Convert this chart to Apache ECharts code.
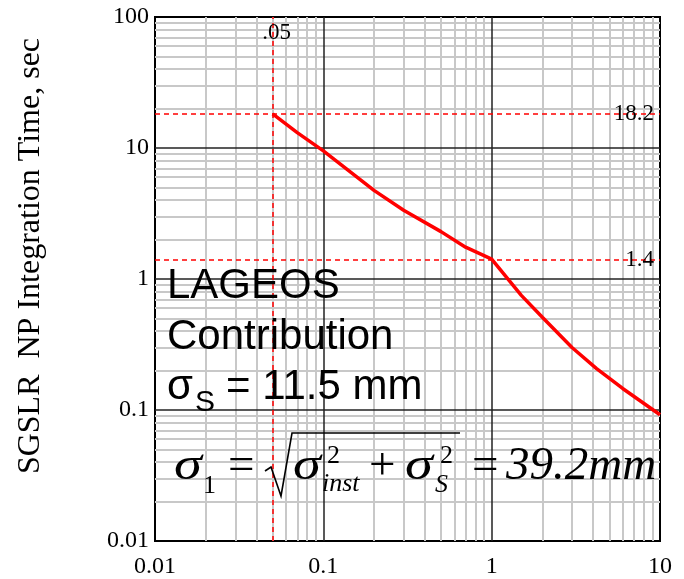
<!DOCTYPE html>
<html><head><meta charset="utf-8">
<script src="https://cdn.jsdelivr.net/npm/echarts/dist/echarts.min.js"></script>
<style>html,body{margin:0;padding:0;background:#fff}#c{width:684px;height:579px}</style>
</head><body><div id="c"></div>
<script>
// ---- data ----
const xValues = [0.05, 0.07, 0.1, 0.2, 0.3, 0.5, 0.7, 1, 1.5, 2, 3, 4.2, 6, 10];
const yValues = [18.2, 13.1, 9.5, 4.75, 3.35, 2.3, 1.75, 1.42, 0.75, 0.51, 0.3, 0.207, 0.146, 0.092];
const xTickLabels = ['0.01', '0.1', '1', '10'];
const yTickLabels = ['0.01', '0.1', '1', '10', '100'];
const xDecades = [0.01, 0.1, 1, 10];
const yDecades = [0.01, 0.1, 1, 10, 100];
const refX = [0.05];
const refXLabels = ['.05'];
const refY = [18.2, 1.4];
const refYLabels = ['18.2', '1.4'];
const yTitle = 'SGSLR  NP Integration Time, sec';
const noteLines = ['LAGEOS', 'Contribution'];
const noteSigma = ['σ', 'S', '= 11.5 mm'];
const formulaResult = '39.2mm';

const chart = echarts.init(document.getElementById('c'), null, {renderer: 'canvas'});
const SERIF = '"Liberation Serif","Times New Roman",serif';
const SANS = '"Liberation Sans",Arial,sans-serif';

// minor grid values (2..9 within each decade)
function minors(decades) {
  const out = [];
  for (let i = 0; i < decades.length - 1; i++)
    for (let m = 2; m <= 9; m++) out.push(+(decades[i] * m).toPrecision(6));
  return out;
}
const xMinor = minors(xDecades), yMinor = minors(yDecades);
const xMajorInner = xDecades.slice(1, -1), yMajorInner = yDecades.slice(1, -1);

function ml(list, key) { return list.map(v => ({[key]: v})); }

const curve = xValues.map((x, i) => [x, yValues[i]]);

function mark(z, lineStyle, data) {
  return {symbol: ['none', 'none'], silent: true, animation: false, label: {show: false}, z: z, lineStyle: lineStyle, data: data};
}

chart.setOption({
  animation: false,
  backgroundColor: '#fff',
  grid: {left: 155, top: 17, width: 505, height: 524, show: true, borderColor: '#000', borderWidth: 2, backgroundColor: '#fff'},
  xAxis: {
    type: 'log', logBase: 10, min: 0.01, max: 10,
    axisLine: {show: false}, axisTick: {show: false}, splitLine: {show: false},
    axisLabel: {
      formatter: v => xTickLabels[Math.round(Math.log10(v)) + 2],
      fontFamily: SERIF, fontSize: 24, color: '#000', margin: 14
    }
  },
  yAxis: {
    type: 'log', logBase: 10, min: 0.01, max: 100,
    axisLine: {show: false}, axisTick: {show: false}, splitLine: {show: false},
    axisLabel: {
      formatter: v => yTickLabels[Math.round(Math.log10(v)) + 2],
      fontFamily: SERIF, fontSize: 24, color: '#000', margin: 6
    }
  },
  series: [
    {type: 'line', data: [], z: 1, markLine: mark(1, {color: '#c8c8c8', width: 2, type: 'solid'},
      ml(xMinor, 'xAxis').concat(ml(yMinor, 'yAxis')))},
    {type: 'line', data: [], z: 2, markLine: mark(2, {color: '#222', width: 1.5, type: 'solid'},
      ml(xMajorInner, 'xAxis').concat(ml(yMajorInner, 'yAxis')))},
    {type: 'line', data: [], z: 3, markLine: mark(3, {color: '#ff0000', width: 1.5, type: [5, 4]},
      ml(refX, 'xAxis').concat(ml(refY, 'yAxis')))},
    {type: 'line', data: curve, z: 10, showSymbol: false, symbol: 'none',
      lineStyle: {color: '#ff0000', width: 3.5}, silent: true}
  ]
});

// ---- annotations ----
const g = [];
function txt(text, x, y, font, align, valign, extra) {
  g.push(Object.assign({type: 'text', x: x, y: y, silent: true, z: 100,
    style: {text: text, font: font, fill: '#000', align: align || 'left', verticalAlign: valign || 'middle'}}, extra || {}));
}
const gridTop = 17, gridRight = 660;
refX.forEach((v, i) => {
  const p = chart.convertToPixel({gridIndex: 0}, [v, 1]);
  txt(refXLabels[i], p[0] + 4, gridTop + 16, '23px ' + SERIF, 'center');
});
refY.forEach((v, i) => {
  const p = chart.convertToPixel({gridIndex: 0}, [1, v]);
  txt(refYLabels[i], gridRight - 6, p[1], '23px ' + SERIF, 'right');
});
// y axis title
txt(yTitle, 31, 256, '32px ' + SERIF, 'center', 'middle', {rotation: Math.PI / 2});

// LAGEOS note
const nf = '42px ' + SANS;
txt(noteLines[0], 167, 301 - 14.6, nf);
txt(noteLines[1], 167, 352 - 14.6, nf);
txt(noteSigma[0], 167, 402 - 14.6, nf);
txt(noteSigma[1], 195, 413 - 10.4, '30px ' + SANS);
txt(noteSigma[2], 226, 402 - 14.6, nf);

// formula
const big = 47, small = 26;
const fIt = 'italic ' + big + 'px ' + SERIF, fUp = big + 'px ' + SERIF;
const sIt = 'italic ' + small + 'px ' + SERIF, sUp = small + 'px ' + SERIF;
const base = 483, cB = base - 0.34 * big;
const wide = {scaleX: 1.2, originX: 0, originY: 0};
txt('σ', 174, cB, fIt, 'left', 'middle', wide);
txt('1', 203, 495 - 0.34 * small, sUp);
txt('=', 228, cB, fUp);
g.push({type: 'polyline', silent: true, z: 100,
  shape: {points: [[265, 471], [271, 467], [281, 496], [292, 433], [460, 433]]},
  style: {stroke: '#000', lineWidth: 1.6, fill: null}});
txt('σ', 293, cB, fIt, 'left', 'middle', wide);
txt('2', 327, 465 - 0.34 * small, sUp);
txt('inst', 322, 493 - 0.34 * small, sIt);
txt('+', 369, cB, fUp);
txt('σ', 405, cB, fIt, 'left', 'middle', wide);
txt('2', 440, 465 - 0.34 * small, sUp);
txt('S', 435, 494 - 0.34 * small, sIt);
txt('=', 472, cB, fUp);
txt(formulaResult, 506, cB, fIt);

chart.setOption({graphic: {elements: g}});
</script></body></html>
